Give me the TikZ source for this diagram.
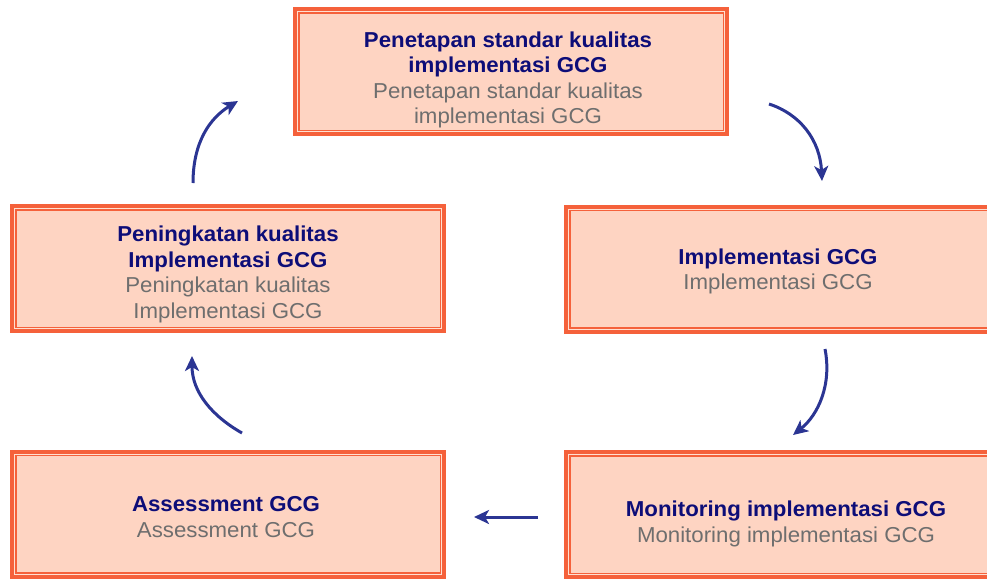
\documentclass[tikz,border=0pt]{standalone}
\usepackage{fontspec}
\setmainfont[FakeStretch=1.03]{Liberation Sans}
\usetikzlibrary{arrows.meta,calc}
\definecolor{borderc}{HTML}{F5613B}
\definecolor{fillc}{HTML}{FED4C2}
\definecolor{gapc}{HTML}{FFE0D1}
\definecolor{navyc}{HTML}{0D0D78}
\definecolor{grayc}{HTML}{6E6E6E}
\definecolor{arrowc}{HTML}{2B3593}
\tikzset{
  gcgbox/.style={rectangle, draw=borderc, line width=4pt, fill=gapc,
    minimum width=432pt, minimum height=125pt, inner sep=0pt},
  innerline/.style={draw=borderc, line width=1.5pt, fill=fillc},
  gcgtext/.style={align=center, inner sep=0pt, yshift=-2pt,
    font=\fontsize{21.6}{25.5}\selectfont},
  cyc/.style={draw=arrowc, line width=3pt, -{Stealth[length=15pt,width=14pt,inset=4pt]}},
}
\newcommand{\gcghd}[1]{\textcolor{navyc}{\bfseries #1}}
\newcommand{\gcgsb}[1]{\textcolor{grayc}{#1}}
\newcommand{\innerrect}[1]{\draw[innerline] ($(#1.north west)+(5.75,5.75)$) rectangle ($(#1.south east)+(-5.75,-5.75)$);}
\begin{document}
\begin{tikzpicture}[x=1pt,y=-1pt]
\useasboundingbox (0,0) rectangle (987,579);
\clip (0,0) rectangle (987,579);
% boxes
\node[gcgbox] (b1) at (511,71.5) {};
\node[gcgbox] (b2) at (782,269) {};
\node[gcgbox] (b3) at (782,514.5) {};
\node[gcgbox] (b4) at (228,514) {};
\node[gcgbox] (b5) at (228,268.5) {};
\innerrect{b1}
\innerrect{b2}
\innerrect{b3}
\innerrect{b4}
\innerrect{b5}
% texts
\node[gcgtext] (t1) at (508,78) {\gcghd{Penetapan standar kualitas}\\\gcghd{implementasi GCG}\\\gcgsb{Penetapan standar kualitas}\\\gcgsb{implementasi GCG}};
\node[gcgtext] (t2) at (778,269.5) {\gcghd{Implementasi GCG}\\\gcgsb{Implementasi GCG}};
\node[gcgtext] (t3) at (786,522) {\gcghd{Monitoring implementasi GCG}\\\gcgsb{Monitoring implementasi GCG}};
\node[gcgtext] (t4) at (226,515) {\gcghd{Assessment GCG}\\\gcgsb{Assessment GCG}};
\node[gcgtext] (t5) at (228,272.5) {\gcghd{Peningkatan kualitas}\\\gcghd{Implementasi GCG}\\\gcgsb{Peningkatan kualitas}\\\gcgsb{Implementasi GCG}};
% arrow end points
\coordinate (a1s) at (769,104); \coordinate (a1e) at (822,181);
\coordinate (a2s) at (825,349); \coordinate (a2e) at (793,435);
\coordinate (a3s) at (538,517); \coordinate (a3e) at (474,517);
\coordinate (a4s) at (242,433); \coordinate (a4e) at (192,356);
\coordinate (a5s) at (193,183); \coordinate (a5e) at (238,101);
\draw[cyc] (a1s) .. controls (800,114) and (820,140) .. (a1e);
\draw[cyc] (a2s) .. controls (832,385) and (818,415) .. (a2e);
\draw[cyc] (a3s) -- (a3e);
\draw[cyc] (a4s) .. controls (212,416) and (192,392) .. (a4e);
\draw[cyc] (a5s) .. controls (193,142) and (210,118) .. (a5e);
\end{tikzpicture}
\end{document}
